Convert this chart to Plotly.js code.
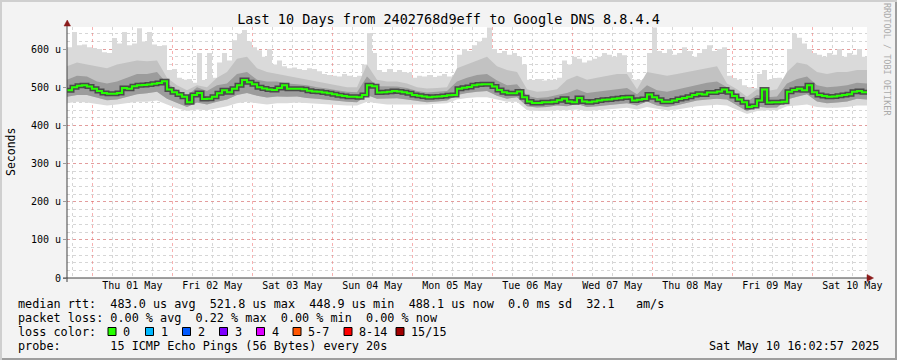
<!DOCTYPE html>
<html><head><meta charset="utf-8">
<script src="https://cdn.plot.ly/plotly-3.0.1.min.js"></script>
<style>html,body{margin:0;padding:0;background:#f3f3f3;}#chart{width:897px;height:360px;}</style>
</head><body><div id="chart"></div>
<script>
// ---- data (microseconds) ----
const startTime = Date.UTC(2025, 3, 30, 16, 24, 0);   // left edge of graph
const fineStepHours = 1.5;     // spacing of medianRtt / smokeMax samples
const coarseStepHours = 3;     // spacing of the smoke band samples

const medianRtt = [
 492,500,504,505,502,496,490,485,483,483,
 485,498,496,503,505,506,507,509,511,516,
 494,487,481,475,461,480,485,469,470,475,
 484,492,487,496,505,519,513,508,500,497,
 494,493,498,505,496,496,496,495,491,489,
 488,486,484,482,479,477,475,475,474,480,
 505,503,486,487,488,490,489,487,484,480,
 478,476,474,475,476,477,479,480,496,499,
 501,505,507,508,508,502,493,487,484,484,
 489,474,463,459,459,461,461,462,466,470,
 463,461,472,463,461,463,465,467,468,470,
 471,473,474,465,467,469,481,474,467,462,
 462,465,469,472,475,480,483,481,486,486,
 489,494,487,477,468,461,448,451,465,494,
 460,461,461,462,488,493,496,492,505,487,
 480,477,475,476,478,480,482,488,490,487,
 487];

const smokeMax = [
 605,645,610,612,605,603,600,592,590,629,
 615,645,610,615,655,620,645,612,608,610,
 545,548,525,520,522,512,590,519,590,525,
 565,590,570,623,640,650,620,605,597,580,
 600,560,570,555,550,552,548,545,550,548,
 542,535,532,530,528,535,530,527,530,560,
 642,590,545,540,548,540,545,540,538,525,
 530,528,532,527,530,535,528,530,585,600,
 595,610,620,630,657,600,590,595,585,590,
 580,560,520,519,522,518,520,519,525,570,
 560,580,575,565,570,575,580,590,585,580,
 590,584,540,520,519,522,590,657,595,590,
 600,585,590,605,595,580,590,600,610,595,
 600,605,530,524,520,505,500,498,535,545,
 520,524,525,522,600,640,630,615,600,590,
 585,580,590,585,600,580,590,585,600,580,
 585];

const smokeMin = [
 458,462,460,456,452,455,458,462,462,465,
 455,445,438,442,440,445,450,458,462,458,
 455,458,458,460,458,456,455,453,452,452,
 462,458,455,455,455,455,455,457,458,468,
 472,474,474,468,462,462,440,438,438,440,
 440,442,438,440,442,444,446,442,448,444,
 440,442,446,450,452,454,452,440,430,438,
 440,440,450,452,455,448,446,446,448,452,
 452];

const smokeLow = [
 475,480,480,472,466,468,475,482,484,488,
 470,460,448,460,455,462,468,480,485,478,
 473,476,475,476,472,470,467,464,462,461,
 480,470,470,471,468,464,461,463,465,480,
 485,488,490,478,470,474,450,447,448,452,
 450,456,448,450,453,456,458,452,463,452,
 448,453,458,465,468,470,468,452,437,450,
 446,447,468,475,482,463,458,460,463,470,
 468];

const smokeHigh = [
 520,530,528,515,510,515,525,535,535,540,
 510,495,478,500,490,505,510,535,540,520,
 515,515,510,508,505,500,497,492,488,487,
 528,503,502,502,498,490,486,488,490,515,
 525,532,535,518,505,508,478,472,474,480,
 485,495,485,488,492,495,498,482,505,492,
 488,494,500,508,512,515,500,482,462,480,
 474,476,510,522,528,505,500,502,505,512,
 510];

const smokeUpper = [
 555,565,560,555,550,560,565,570,568,570,
 525,505,492,505,500,525,540,575,580,550,
 540,535,530,525,520,515,510,505,500,500,
 560,520,515,515,510,500,497,498,500,550,
 560,570,580,555,545,540,495,488,490,495,
 520,530,520,525,530,535,535,495,540,535,
 530,535,540,545,550,555,510,495,475,495,
 490,495,540,565,560,540,535,540,540,545,
 545];

const yTickVals = [0, 100, 200, 300, 400, 500, 600];
const yTickText = ['0', '100 u', '200 u', '300 u', '400 u', '500 u', '600 u'];

const lossLabels = ['0', '1', '2', '3', '4', '5-7', '8-14', '15/15'];
const lossColors = ['#26ff00', '#00b8ff', '#0059ff', '#7e00ff', '#dd00ff', '#ff5500', '#ff0000', '#a10000'];

const titleText = 'Last 10 Days from 2402768d9eff to Google DNS 8.8.4.4';
const statsMedian = 'median rtt:  483.0 us avg  521.8 us max  448.9 us min  488.1 us now  0.0 ms sd  32.1   am/s';
const statsLoss = 'packet loss: 0.00 % avg  0.22 % max  0.00 % min  0.00 % now';
const lossTitle = 'loss color:';
const probeText = 'probe:       15 ICMP Echo Pings (56 Bytes) every 20s';
const stampText = 'Sat May 10 16:02:57 2025';

// ---- build ----
const HOUR = 3600000;
const fineX = medianRtt.map((_, i) => startTime + i * fineStepHours * HOUR);
const coarseX = smokeMin.map((_, i) => startTime + i * coarseStepHours * HOUR);

const L = 67, T = 27, W = 800, H = 251, FIG_W = 897, FIG_H = 360;
const px = x => (x - L) / W;
const py = y => (T + H - y) / H;
const nb = s => s.replace(/ /g, '\u00a0');
const MONO = 'DejaVu Sans Mono';

function band(lo, loX, hi, hiX, color, shapeHi) {
  return [
    {x: loX, y: lo, type: 'scatter', mode: 'lines', line: {width: 0, color: color}, hoverinfo: 'skip', showlegend: false},
    {x: hiX, y: hi, type: 'scatter', mode: 'lines', line: {width: 0, color: color, shape: shapeHi || 'linear'},
     fill: 'tonexty', fillcolor: color, hoverinfo: 'skip', showlegend: false}
  ];
}

const traces = [
  ...band(smokeMin, coarseX, smokeMax, fineX, '#dadada', 'hv'),
  ...band(smokeLow, coarseX, smokeUpper, coarseX, '#c2c2c2'),
  ...band(smokeLow, coarseX, smokeHigh, coarseX, '#9c9c9c'),
  {x: fineX, y: medianRtt, type: 'scatter', mode: 'lines', line: {width: 5, color: 'rgba(60,60,60,0.85)', shape: 'hv'}, hoverinfo: 'skip', showlegend: false},
  {x: fineX, y: medianRtt, type: 'scatter', mode: 'lines', line: {width: 2, color: lossColors[0], shape: 'hv'}, hoverinfo: 'skip', showlegend: false}
];

const annotations = [];
const addText = (text, x, y, opts = {}) => annotations.push(Object.assign({
  text: nb(text), xref: 'paper', yref: 'paper', x: px(x), y: py(y), showarrow: false,
  xanchor: 'left', yanchor: 'middle', font: {family: MONO, size: 11.8, color: '#000'}
}, opts));

addText(statsMedian, 16, 304);
addText(statsLoss, 16, 318);
addText(lossTitle, 16, 332);
addText(probeText, 16, 346);
addText(stampText, 881, 346, {xanchor: 'right'});
addText('Seconds', 11, 152, {xanchor: 'center', textangle: -90, font: {family: MONO, size: 11.5, color: '#000'}});
addText('RRDTOOL / TOBI OETIKER', 887, 60, {xanchor: 'center', textangle: 90, font: {family: MONO, size: 8.5, color: '#aaaaaa'}});

const shapes = [];
const legendSquareX = [108, 145.5, 182.5, 219.5, 256.5, 293, 344, 396];
lossLabels.forEach((lab, i) => {
  const sx = legendSquareX[i];
  shapes.push({type: 'rect', xref: 'paper', yref: 'paper', x0: px(sx), x1: px(sx + 8), y0: py(335.5), y1: py(327.5),
    fillcolor: lossColors[i], line: {color: '#000', width: 1}});
  addText(lab, sx + 13, 332);
});

// axis extensions and arrows
const axisCol = '#404040';
shapes.push({type: 'line', xref: 'paper', yref: 'paper', x0: 0, x1: 0, y0: py(282), y1: py(24), line: {color: axisCol, width: 1}});
shapes.push({type: 'line', xref: 'paper', yref: 'paper', x0: px(63), x1: px(869), y0: 0, y1: 0, line: {color: axisCol, width: 1}});
shapes.push({type: 'path', xref: 'paper', yref: 'paper',
  path: `M ${px(64)} ${py(26)} L ${px(70.5)} ${py(26)} L ${px(67.25)} ${py(20)} Z`, fillcolor: '#8b1a1a', line: {color: '#8b1a1a', width: 0.5}});
shapes.push({type: 'path', xref: 'paper', yref: 'paper',
  path: `M ${px(867)} ${py(274.5)} L ${px(867)} ${py(281.5)} L ${px(873.5)} ${py(278)} Z`, fillcolor: '#8b1a1a', line: {color: '#8b1a1a', width: 0.5}});
// frame
shapes.push({type: 'line', xref: 'paper', yref: 'paper', x0: px(0), x1: px(FIG_W), y0: py(FIG_H - 1), y1: py(FIG_H - 1), line: {color: '#9e9e9e', width: 2}});
shapes.push({type: 'line', xref: 'paper', yref: 'paper', x0: px(FIG_W - 1), x1: px(FIG_W - 1), y0: py(0), y1: py(FIG_H), line: {color: '#9e9e9e', width: 2}});
shapes.push({type: 'line', xref: 'paper', yref: 'paper', x0: px(1), x1: px(1), y0: py(0), y1: py(FIG_H), line: {color: '#cfcfcf', width: 2}});
shapes.push({type: 'line', xref: 'paper', yref: 'paper', x0: px(0), x1: px(FIG_W), y0: py(1), y1: py(1), line: {color: '#cfcfcf', width: 2}});

const redGrid = 'rgba(240,100,100,0.5)';
const grayGrid = '#d6d6d6';

const layout = {
  width: FIG_W, height: FIG_H,
  margin: {l: L, r: FIG_W - L - W, t: T, b: FIG_H - T - H, pad: 0},
  paper_bgcolor: '#f3f3f3', plot_bgcolor: '#ffffff',
  showlegend: false, hovermode: false,
  title: {text: nb(titleText), x: 0.5, xref: 'container', xanchor: 'center', y: 1 - 19 / FIG_H, yref: 'container', yanchor: 'middle',
          font: {family: MONO, size: 13.5, color: '#000'}},
  xaxis: {
    type: 'date', range: ['2025-04-30 16:24:00', '2025-05-10 16:24:00'],
    tickmode: 'linear', tick0: '2025-05-01 00:00:00', dtick: 86400000,
    ticklabelmode: 'period', tickformat: '%a %d %b',
    tickfont: {family: MONO, size: 10, color: '#000'},
    showgrid: true, gridcolor: redGrid, griddash: 'dot', gridwidth: 1,
    minor: {tickmode: 'linear', tick0: '2025-05-01 00:00:00', dtick: 21600000, showgrid: true, gridcolor: grayGrid, griddash: 'dot', gridwidth: 1},
    showline: false, zeroline: false, ticks: '', fixedrange: true
  },
  yaxis: {
    range: [0, 658], tickmode: 'array', tickvals: yTickVals, ticktext: yTickText,
    tickfont: {family: MONO, size: 10, color: '#000'},
    showgrid: true, gridcolor: redGrid, griddash: 'dot', gridwidth: 1,
    minor: {tickmode: 'linear', tick0: 0, dtick: 20, showgrid: true, gridcolor: grayGrid, griddash: 'dot', gridwidth: 1},
    showline: false, zeroline: false, ticks: 'outside', ticklen: 3, tickcolor: '#9a9a9a', fixedrange: true
  },
  shapes: shapes,
  annotations: annotations
};

Plotly.newPlot('chart', traces, layout, {staticPlot: true, displayModeBar: false});
</script></body></html>
